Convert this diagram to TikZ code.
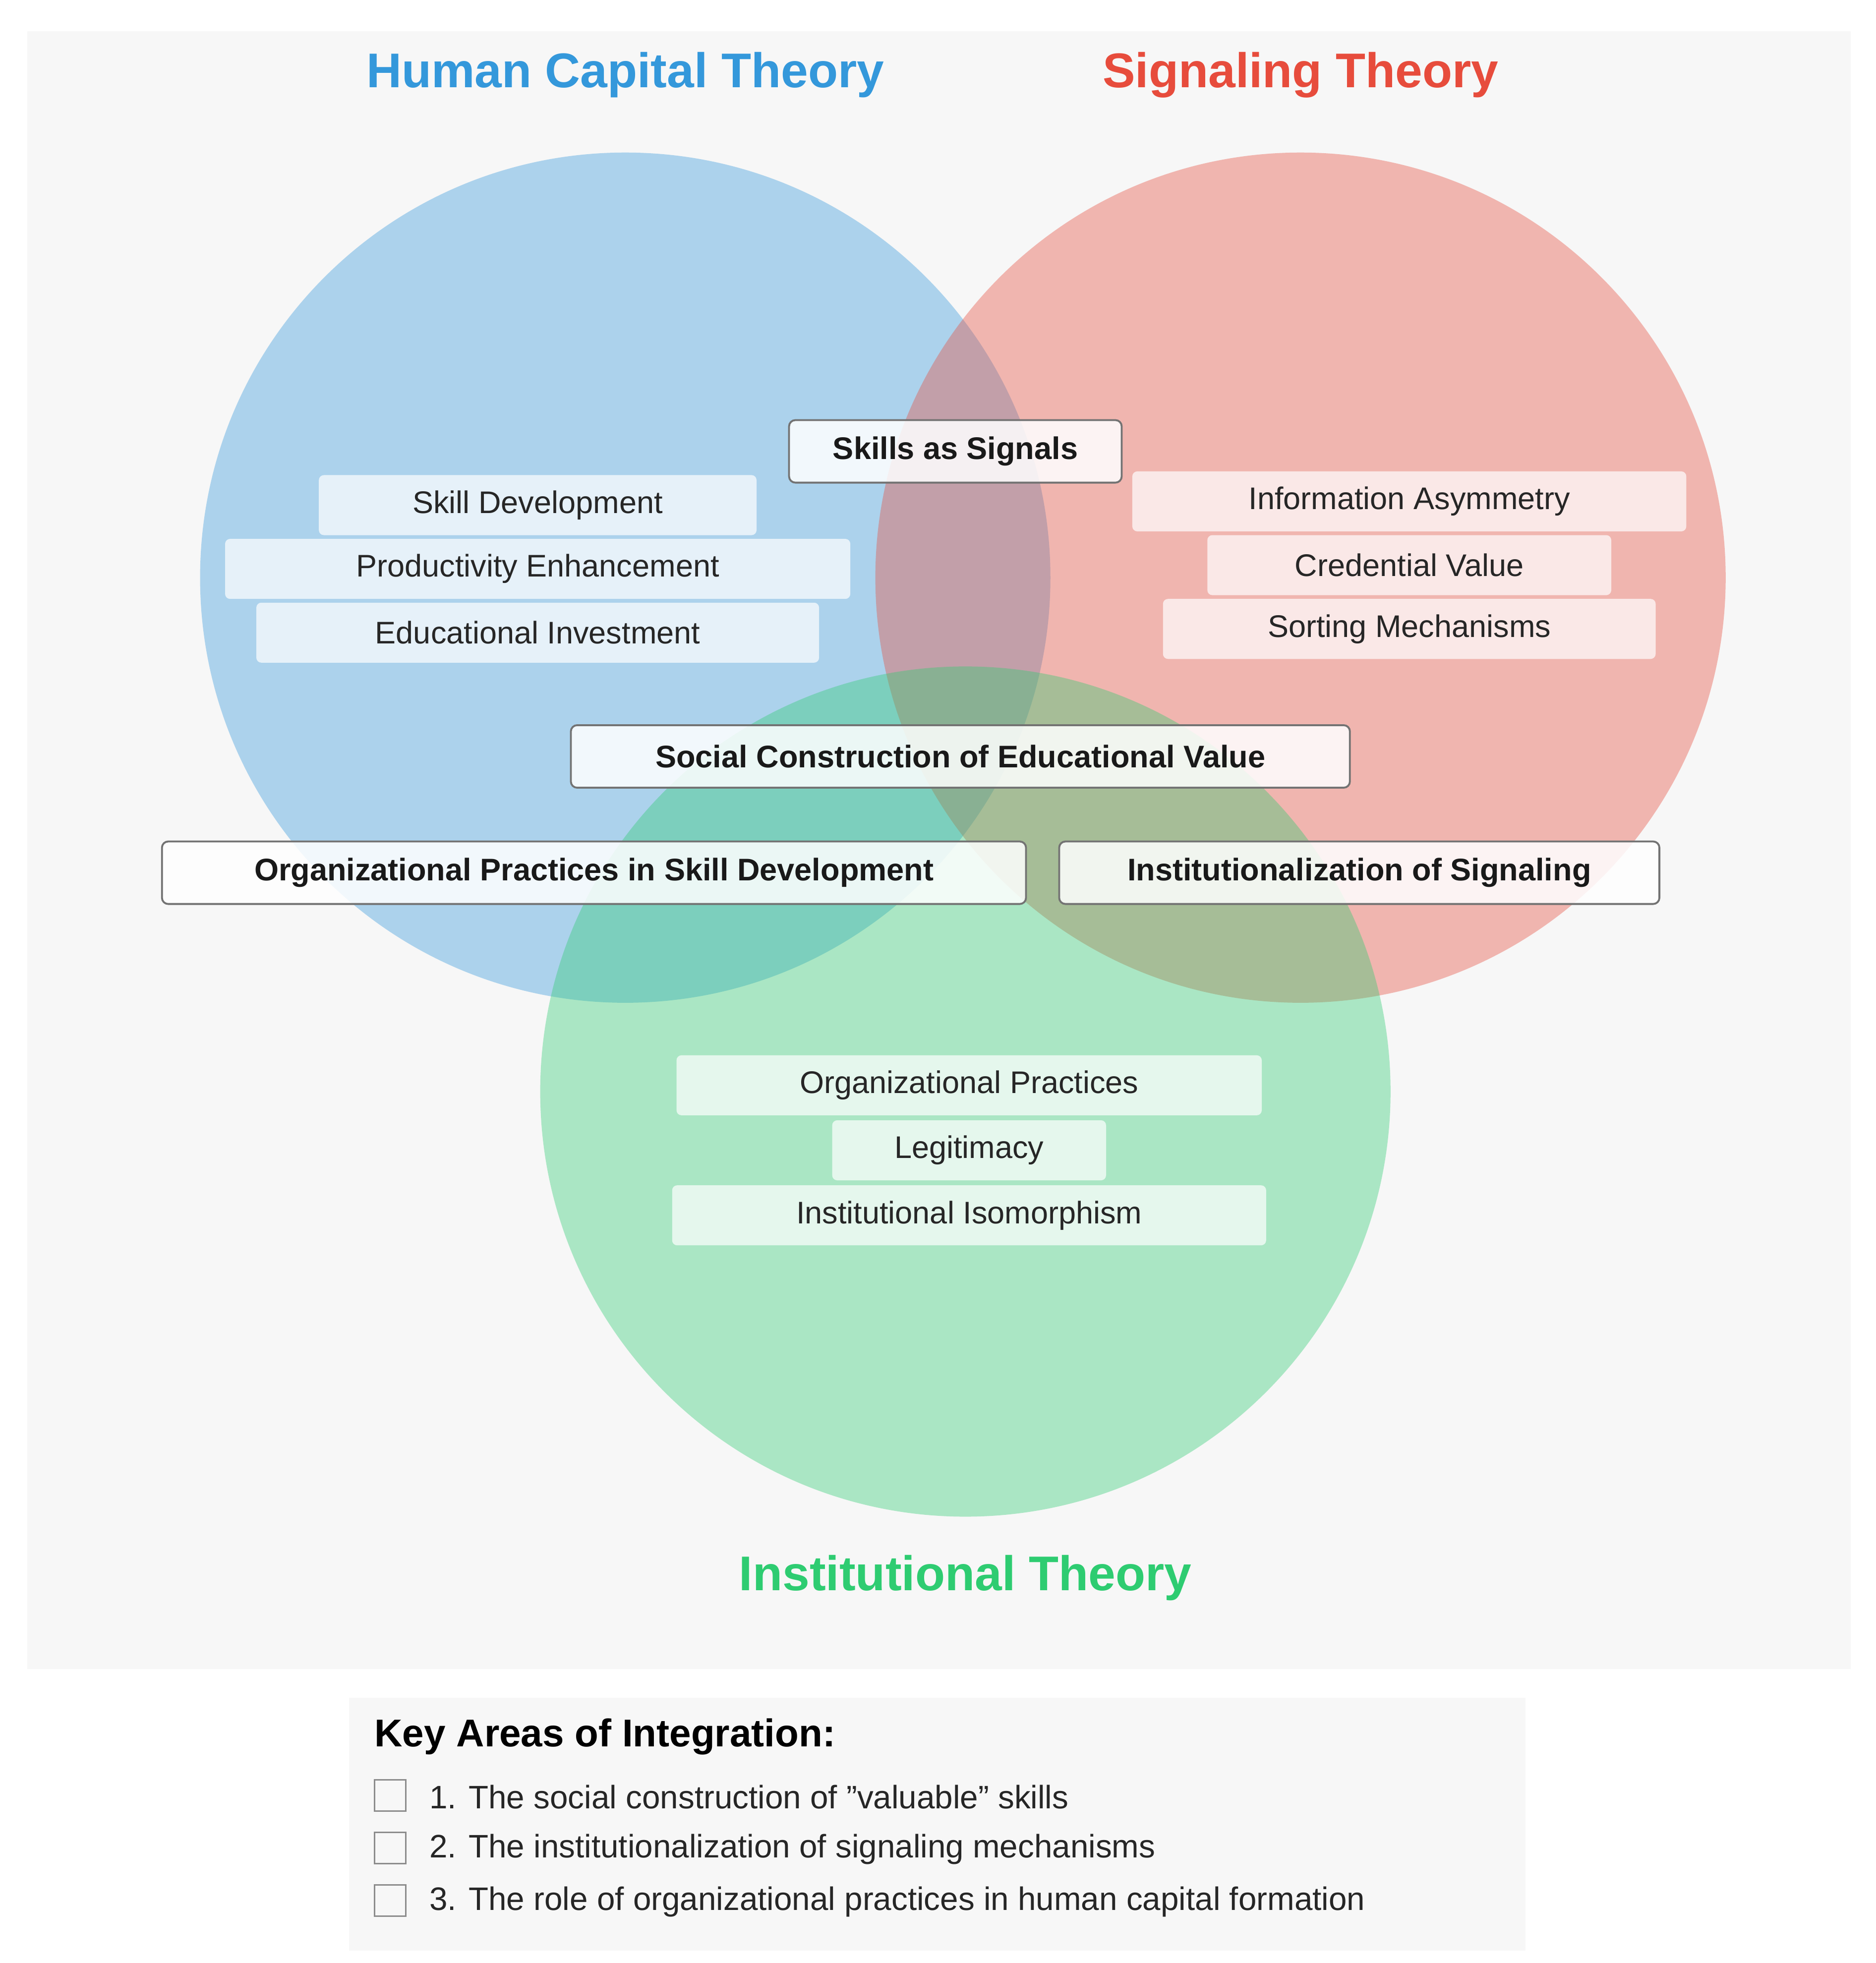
\documentclass[tikz,border=0pt]{standalone}
\usepackage{fontspec}
\setmainfont{Liberation Sans}
\definecolor{cb}{HTML}{3498DB}
\definecolor{cr}{HTML}{E74C3C}
\definecolor{cg}{HTML}{2ECC71}
\definecolor{panel}{HTML}{F7F7F7}
\begin{document}
\begin{tikzpicture}[x=1pt,y=-1pt,
  lab/.style={fill=white,fill opacity=0.7,text opacity=1,rounded corners=4pt,minimum height=48pt,inner sep=0pt,font=\fontsize{25}{28}\selectfont,text=black!85},
  box/.style={fill=white,fill opacity=0.85,text opacity=1,draw=black!55,line width=1.5pt,rounded corners=5pt,minimum height=50pt,inner sep=0pt,font=\fontsize{25}{28}\selectfont\bfseries,text=black!90},
  ttl/.style={font=\fontsize{39}{44}\selectfont\bfseries},
  item/.style={anchor=west,font=\fontsize{26}{30}\selectfont,text=black!85},
  chk/.style={draw=black!45,line width=1.2pt,minimum size=25pt,inner sep=0pt}]
\useasboundingbox (0,0) rectangle (1500,1570);
\fill[white] (0,0) rectangle (1500,1570);
\fill[panel] (22,25) rectangle (1480,1335);
\fill[cb,opacity=0.38] (500,462) circle[radius=340];
\fill[cr,opacity=0.38] (1040,462) circle[radius=340];
\fill[cg,opacity=0.38] (772,873) circle[radius=340];
\node[ttl,text=cb] (t1) at (500,60) {Human Capital Theory};
\node[ttl,text=cr] (t2) at (1040,60) {Signaling Theory};
\node[ttl,text=cg] (t3) at (772,1262) {Institutional Theory};
\node[lab,minimum width=350pt] (a1) at (430,404) {Skill Development};
\node[lab,minimum width=500pt] (a2) at (430,455) {Productivity Enhancement};
\node[lab,minimum width=450pt] (a3) at (430,506) {Educational Investment};
\node[lab,minimum width=443pt] (b1) at (1127,401) {Information Asymmetry};
\node[lab,minimum width=323pt] (b2) at (1127,452) {Credential Value};
\node[lab,minimum width=394pt] (b3) at (1127,503) {Sorting Mechanisms};
\node[lab,minimum width=468pt] (c1) at (775,868) {Organizational Practices};
\node[lab,minimum width=219pt] (c2) at (775,920) {Legitimacy};
\node[lab,minimum width=475pt] (c3) at (775,972) {Institutional Isomorphism};
\node[box,minimum width=266pt] (i1) at (764,361) {Skills as Signals};
\node[box,minimum width=623pt] (i2) at (768,605) {Social Construction of Educational Value};
\node[box,minimum width=691pt] (i3) at (475,698) {Organizational Practices in Skill Development};
\node[box,minimum width=480pt] (i4) at (1087,698) {Institutionalization of Signaling};
\fill[panel] (279,1358) rectangle (1220,1560);
\node[anchor=west,font=\fontsize{31}{34}\selectfont\bfseries] (k) at (296,1389) {Key Areas of Integration:};
\node[chk] (q1) at (312,1436) {};
\node[chk] (q2) at (312,1478) {};
\node[chk] (q3) at (312,1520) {};
\node[item] (k1) at (340,1437) {1. The social construction of "valuable" skills};
\node[item] (k2) at (340,1479) {2. The institutionalization of signaling mechanisms};
\node[item] (k3) at (340,1521) {3. The role of organizational practices in human capital formation};
\end{tikzpicture}
\end{document}
